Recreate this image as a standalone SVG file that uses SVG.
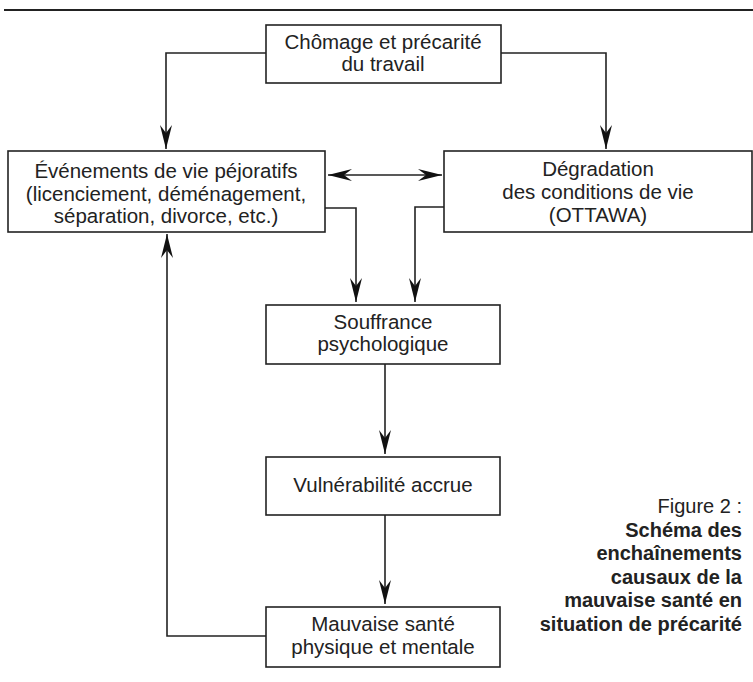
<svg xmlns="http://www.w3.org/2000/svg" width="753" height="682" viewBox="0 0 753 682">
<style>
.box{fill:#fff;stroke:#222;stroke-width:1.6}
.t{font-family:"Liberation Sans",Arial,sans-serif;font-size:20.5px;fill:#222;text-anchor:middle}
.c{font-family:"Liberation Sans",Arial,sans-serif;font-size:20px;fill:#222;text-anchor:end}
.b{font-weight:bold}
.ln{fill:none;stroke:#222;stroke-width:1.6}
</style>
<defs>
<marker id="ah" markerUnits="userSpaceOnUse" markerWidth="30" markerHeight="16" viewBox="-25 -8 30 16" refX="0" refY="0" orient="auto">
<path d="M0,0 L-24,-6 L-16,0 L-24,6 Z" fill="#111"/>
</marker>
<marker id="ahs" markerUnits="userSpaceOnUse" markerWidth="30" markerHeight="16" viewBox="-25 -8 30 16" refX="0" refY="0" orient="auto-start-reverse">
<path d="M0,0 L-24,-6 L-16,0 L-24,6 Z" fill="#111"/>
</marker>
</defs>
<line x1="4" y1="10" x2="753" y2="10" stroke="#222" stroke-width="2"/>
<g id="connectors">
<polyline class="ln" points="266,53 166,53 166,149" marker-end="url(#ah)"/>
<polyline class="ln" points="501,53 606,53 606,149" marker-end="url(#ah)"/>
<line class="ln" x1="328" y1="175" x2="442" y2="175" marker-start="url(#ahs)" marker-end="url(#ah)"/>
<polyline class="ln" points="325,208 356,208 356,302" marker-end="url(#ah)"/>
<polyline class="ln" points="444,207 415,207 415,302" marker-end="url(#ah)"/>
<line class="ln" x1="385" y1="364" x2="385" y2="454" marker-end="url(#ah)"/>
<line class="ln" x1="385" y1="515" x2="385" y2="604" marker-end="url(#ah)"/>
<polyline class="ln" points="266,636 167,636 167,234" marker-end="url(#ah)"/>
</g>
<g id="n1">
<rect class="box" x="266" y="25" width="235" height="58"/>
<text class="t" x="383" y="49">Chômage et précarité</text>
<text class="t" x="383" y="71">du travail</text>
</g>
<g id="n2">
<rect class="box" x="8" y="151" width="317" height="81"/>
<text class="t" x="166" y="178">Événements de vie péjoratifs</text>
<text class="t" x="166" y="201">(licenciement, déménagement,</text>
<text class="t" x="166" y="223">séparation, divorce, etc.)</text>
</g>
<g id="n3">
<rect class="box" x="444" y="151" width="308" height="81"/>
<text class="t" x="598" y="176">Dégradation</text>
<text class="t" x="598" y="199">des conditions de vie</text>
<text class="t" x="598" y="222">(OTTAWA)</text>
</g>
<g id="n4">
<rect class="box" x="266" y="305" width="234" height="59"/>
<text class="t" x="383" y="329">Souffrance</text>
<text class="t" x="383" y="351">psychologique</text>
</g>
<g id="n5">
<rect class="box" x="266" y="457" width="234" height="58"/>
<text class="t" x="383" y="492">Vulnérabilité accrue</text>
</g>
<g id="n6">
<rect class="box" x="266" y="607" width="234" height="60"/>
<text class="t" x="383" y="631">Mauvaise santé</text>
<text class="t" x="383" y="654">physique et mentale</text>
</g>
<g id="caption">
<text class="c" x="742" y="513">Figure 2 :</text>
<text class="c b" x="742" y="537">Schéma des</text>
<text class="c b" x="742" y="560">enchaînements</text>
<text class="c b" x="742" y="584">causaux de la</text>
<text class="c b" x="742" y="607">mauvaise santé en</text>
<text class="c b" x="742" y="631">situation de précarité</text>
</g>
</svg>
